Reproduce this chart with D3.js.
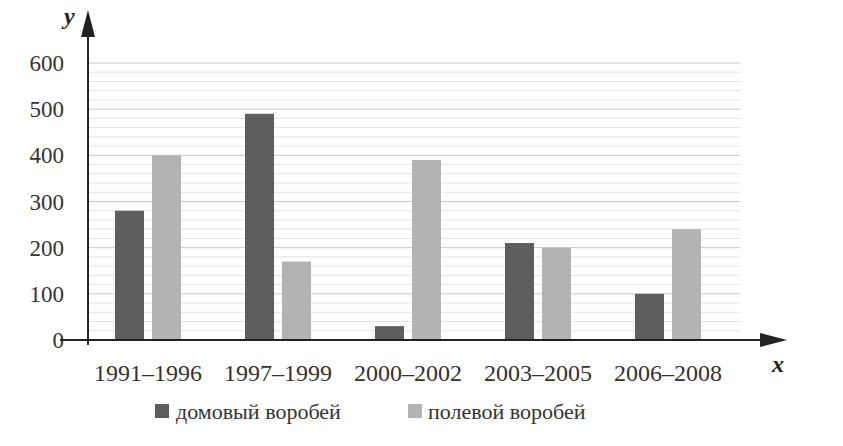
<!DOCTYPE html><html><head><meta charset="utf-8"><script src="https://cdn.jsdelivr.net/npm/d3@7"></script>
<style>body{margin:0;background:#fff}svg text{font-family:'Liberation Serif','Times New Roman','DejaVu Serif',serif}</style></head><body><svg id="c" width="843" height="446"></svg><script>
const categories=["1991–1996","1997–1999","2000–2002","2003–2005","2006–2008"];
const house=[280,490,30,210,100];
const field=[400,170,390,200,240];
const yTicks=[0,100,200,300,400,500,600];
const svg=d3.select("#c");
const F="'Liberation Serif','Times New Roman','DejaVu Serif',serif";
const y=d3.scaleLinear().domain([0,600]).range([340,63]);
const x=d3.scaleBand().domain(categories).range([83,733]).paddingInner(0).paddingOuter(0);
const g=svg.append("g").attr("font-family",F);
d3.range(20,601,20).forEach(v=>{g.append("line").attr("x1",88).attr("x2",740).attr("y1",y(v)).attr("y2",y(v)).attr("stroke",v%100?"#e3e3e3":"#c8c8c8").attr("stroke-width",1);});
const cx=c=>x(c)+x.bandwidth()/2;
categories.forEach((c,i)=>{
 g.append("rect").attr("x",cx(c)-33).attr("width",29).attr("y",y(house[i])).attr("height",y(0)-y(house[i])).attr("fill","#5e5e5e");
 g.append("rect").attr("x",cx(c)+4).attr("width",29).attr("y",y(field[i])).attr("height",y(0)-y(field[i])).attr("fill","#b3b3b3");
 g.append("text").attr("x",cx(c)).attr("y",381).attr("text-anchor","middle").attr("font-size",24).attr("fill","#333").text(c);
});
yTicks.forEach(v=>g.append("text").attr("x",64).attr("y",y(v)+8).attr("text-anchor","end").attr("font-size",23).attr("fill","#333").text(v));
g.append("line").attr("x1",88).attr("x2",88).attr("y1",345).attr("y2",30).attr("stroke","#222").attr("stroke-width",2);
g.append("path").attr("d","M88,10 L81,37 L95,37 Z").attr("fill","#222");
g.append("line").attr("x1",60).attr("x2",770).attr("y1",340).attr("y2",340).attr("stroke","#222").attr("stroke-width",2);
g.append("path").attr("d","M787,340 L760,333 L760,347 Z").attr("fill","#222");
g.append("text").attr("x",64).attr("y",24).attr("font-size",24).attr("font-style","italic").attr("font-weight","bold").attr("fill","#222").text("y");
g.append("text").attr("x",772).attr("y",372).attr("font-size",24).attr("font-style","italic").attr("font-weight","bold").attr("fill","#222").text("x");
g.append("rect").attr("x",155).attr("y",404).attr("width",14).attr("height",14).attr("fill","#5e5e5e");
g.append("text").attr("x",176).attr("y",419).attr("font-size",22).attr("fill","#333").text("домовый воробей");
g.append("rect").attr("x",408).attr("y",404).attr("width",14).attr("height",14).attr("fill","#b3b3b3");
g.append("text").attr("x",428).attr("y",419).attr("font-size",22).attr("fill","#333").text("полевой воробей");
</script></body></html>
